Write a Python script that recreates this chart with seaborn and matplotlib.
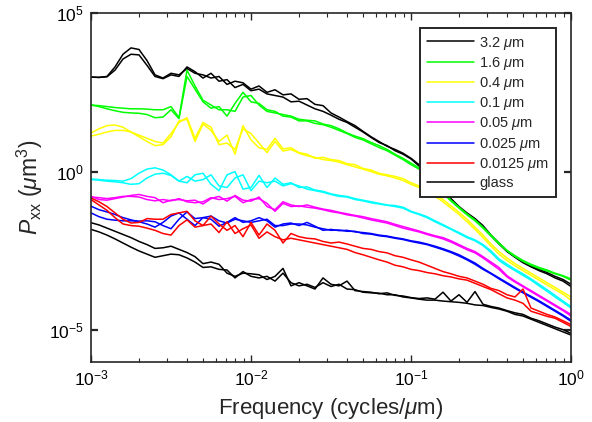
import numpy as np
import pandas as pd
import seaborn as sns
import matplotlib.pyplot as plt
from matplotlib.lines import Line2D
from matplotlib.ticker import LogLocator, NullLocator

# log10 of frequency (cycles/um), shared by every spectrum
log_freq = [-3.00, -2.95, -2.90, -2.85, -2.80, -2.75, -2.70, -2.65, -2.60, -2.55,
            -2.50, -2.45, -2.40, -2.35, -2.30, -2.25, -2.20, -2.15, -2.10, -2.05,
            -2.00, -1.95, -1.90, -1.85, -1.80, -1.75, -1.70, -1.65, -1.60, -1.55,
            -1.50, -1.45, -1.40, -1.35, -1.30, -1.25, -1.20, -1.15, -1.10, -1.05,
            -1.00, -0.95, -0.90, -0.85, -0.80, -0.75, -0.70, -0.65, -0.60, -0.55,
            -0.50, -0.45, -0.40, -0.35, -0.30, -0.25, -0.20, -0.15, -0.10, -0.05,
            0.00]

# log10 of Pxx (um^3), two scans per sample
p32_a = [2.98, 2.97, 3.0, 3.3, 3.7, 3.9, 3.85, 3.5, 3.05, 2.95, 3.1, 3.05, 3.25, 3.1, 3.05, 2.95, 3.0, 2.75, 2.85, 2.8,
         2.6, 2.7, 2.5, 2.58, 2.42, 2.45, 2.28, 2.3, 2.12, 2.08, 1.85, 1.72, 1.58, 1.45, 1.27, 1.1, 0.95, 0.8, 0.7, 0.58,
         0.42, 0.22, -0.05, -0.35, -0.62, -0.85, -1.1, -1.3, -1.48, -1.7, -2.0, -2.25, -2.5, -2.68, -2.85, -2.98, -3.08, -3.18, -3.3, -3.4,
         -3.55]
p32_b = [2.98, 2.97, 2.99, 3.2, 3.55, 3.7, 3.68, 3.35, 3.0, 2.93, 3.05, 3.0, 3.3, 3.15, 2.95, 3.1, 2.85, 2.9, 2.65, 2.75,
         2.55, 2.6, 2.45, 2.4, 2.35, 2.2, 2.22, 2.1, 1.98, 1.9, 1.78, 1.65, 1.55, 1.4, 1.25, 1.08, 0.92, 0.82, 0.66, 0.55,
         0.4, 0.18, -0.08, -0.38, -0.65, -0.88, -1.12, -1.33, -1.5, -1.75, -2.02, -2.28, -2.52, -2.7, -2.87, -3.0, -3.12, -3.22, -3.35, -3.45,
         -3.62]
p16_a = [2.1, 2.08, 2.05, 2.02, 2.0, 1.98, 1.98, 1.97, 1.95, 1.95, 2.05, 1.7, 3.2, 2.7, 2.25, 2.1, 1.95, 1.95, 1.9, 2.35,
         2.4, 2.1, 1.9, 1.85, 1.8, 1.75, 1.65, 1.62, 1.6, 1.5, 1.45, 1.35, 1.22, 1.12, 1.04, 0.92, 0.82, 0.7, 0.55, 0.42,
         0.27, 0.12, -0.1, -0.38, -0.65, -0.9, -1.12, -1.33, -1.52, -1.75, -2.0, -2.25, -2.48, -2.65, -2.8, -2.92, -3.02, -3.1, -3.2, -3.28,
         -3.38]
p16_b = [2.1, 2.05, 1.98, 1.92, 1.87, 1.85, 1.84, 1.8, 1.7, 1.72, 1.95, 1.67, 3.0, 2.6, 2.2, 2.0, 2.05, 1.75, 2.15, 2.5,
         2.2, 2.15, 1.95, 1.9, 1.75, 1.72, 1.6, 1.6, 1.52, 1.48, 1.4, 1.3, 1.2, 1.08, 1.0, 0.88, 0.76, 0.66, 0.52, 0.38,
         0.22, 0.08, -0.15, -0.42, -0.68, -0.93, -1.15, -1.36, -1.55, -1.78, -2.03, -2.28, -2.5, -2.68, -2.83, -2.95, -3.05, -3.13, -3.22, -3.3,
         -3.42]
p04_a = [1.22, 1.35, 1.45, 1.47, 1.4, 1.25, 1.1, 0.95, 0.82, 0.85, 1.1, 1.6, 1.65, 0.95, 1.5, 1.3, 0.95, 1.15, 0.55, 1.45,
         1.0, 0.75, 0.7, 1.05, 0.72, 0.75, 0.6, 0.55, 0.42, 0.45, 0.38, 0.35, 0.25, 0.22, 0.1, 0.05, -0.05, -0.1, -0.15, -0.22,
         -0.35, -0.45, -0.58, -0.72, -0.88, -1.08, -1.28, -1.5, -1.75, -2.0, -2.28, -2.52, -2.72, -2.9, -3.05, -3.2, -3.35, -3.5, -3.65, -3.8,
         -3.95]
p04_b = [1.12, 1.18, 1.25, 1.3, 1.3, 1.25, 1.15, 1.05, 0.95, 0.9, 1.2, 1.55, 1.7, 1.05, 1.55, 1.4, 0.85, 0.9, 0.7, 1.35,
         1.2, 0.9, 0.6, 0.95, 0.65, 0.7, 0.58, 0.5, 0.45, 0.38, 0.35, 0.3, 0.22, 0.15, 0.08, 0.0, -0.08, -0.13, -0.2, -0.28,
         -0.4, -0.5, -0.62, -0.78, -0.95, -1.15, -1.35, -1.58, -1.82, -2.08, -2.35, -2.6, -2.8, -2.97, -3.12, -3.27, -3.42, -3.57, -3.72, -3.86,
         -4.05]
p01_a = [-0.23, -0.25, -0.27, -0.28, -0.3, -0.22, -0.05, 0.08, 0.12, 0.05, -0.1, -0.3, -0.35, -0.1, -0.05, -0.4, -0.6, -0.1, 0.0, -0.55,
         -0.5, -0.12, -0.5, -0.2, -0.4, -0.35, -0.5, -0.48, -0.58, -0.62, -0.7, -0.75, -0.78, -0.85, -0.9, -0.95, -1.0, -1.05, -1.07, -1.12,
         -1.25, -1.33, -1.42, -1.55, -1.67, -1.8, -1.92, -2.05, -2.15, -2.3, -2.5, -2.75, -2.92, -3.08, -3.22, -3.38, -3.55, -3.72, -3.9, -4.08,
         -4.25]
p01_b = [-0.25, -0.27, -0.3, -0.32, -0.35, -0.4, -0.38, -0.2, -0.08, -0.05, -0.12, -0.3, -0.15, -0.3, -0.25, -0.1, -0.45, -0.5, -0.2, -0.1,
         -0.6, -0.3, -0.35, -0.3, -0.45, -0.38, -0.45, -0.55, -0.6, -0.65, -0.72, -0.78, -0.8, -0.88, -0.92, -0.98, -1.02, -1.06, -1.1, -1.15,
         -1.27, -1.35, -1.45, -1.58, -1.7, -1.82, -1.95, -2.08, -2.18, -2.33, -2.55, -2.8, -2.97, -3.12, -3.27, -3.42, -3.6, -3.77, -3.95, -4.12,
         -4.3]
p005_a = [-0.78, -0.88, -0.9, -0.85, -0.8, -0.75, -0.72, -0.78, -0.82, -0.98, -0.9, -0.88, -0.92, -0.9, -1.02, -0.85, -0.78, -0.93, -0.75, -0.9,
          -0.93, -0.8, -1.1, -1.2, -0.95, -1.05, -1.1, -1.05, -1.12, -1.18, -1.22, -1.28, -1.33, -1.38, -1.42, -1.48, -1.53, -1.58, -1.66, -1.73,
          -1.8, -1.87, -1.95, -2.02, -2.08, -2.18, -2.3, -2.42, -2.52, -2.68, -2.85, -3.02, -3.28, -3.45, -3.6, -3.75, -3.9, -4.05, -4.2, -4.35,
          -4.5]
p005_b = [-0.8, -0.82, -0.85, -0.82, -0.78, -0.78, -0.8, -0.88, -0.92, -0.88, -0.92, -0.85, -0.95, -0.98, -0.95, -0.82, -0.88, -0.85, -0.78, -0.98,
          -0.88, -0.85, -1.0, -1.25, -1.0, -1.1, -1.08, -1.12, -1.15, -1.2, -1.26, -1.3, -1.36, -1.4, -1.46, -1.52, -1.57, -1.62, -1.7, -1.78,
          -1.84, -1.9, -1.98, -2.05, -2.12, -2.22, -2.34, -2.46, -2.56, -2.72, -2.9, -3.08, -3.32, -3.48, -3.63, -3.78, -3.93, -4.08, -4.23, -4.38,
          -4.55]
p0025_a = [-1.09, -1.2, -1.27, -1.35, -1.45, -1.52, -1.58, -1.65, -1.75, -1.6, -1.4, -1.3, -1.5, -1.7, -1.45, -1.5, -1.72, -1.6, -1.45, -1.6,
           -1.55, -1.45, -1.55, -1.75, -1.65, -1.62, -1.7, -1.6, -1.72, -1.85, -1.82, -1.86, -1.85, -1.9, -1.92, -1.95, -2.0, -2.03, -2.08, -2.12,
           -2.18, -2.22, -2.28, -2.35, -2.43, -2.52, -2.62, -2.75, -2.88, -3.05, -3.2, -3.35, -3.5, -3.65, -3.8, -3.93, -4.07, -4.22, -4.37, -4.52,
           -4.68]
p0025_b = [-1.3, -1.42, -1.5, -1.53, -1.55, -1.55, -1.56, -1.55, -1.58, -1.7, -1.8, -1.5, -1.27, -1.48, -1.45, -1.4, -1.55, -1.62, -1.5, -1.55,
           -1.6, -1.55, -1.5, -1.7, -1.7, -1.65, -1.65, -1.68, -1.75, -1.8, -1.85, -1.84, -1.88, -1.88, -1.95, -1.97, -2.02, -2.05, -2.1, -2.14,
           -2.2, -2.25, -2.3, -2.38, -2.46, -2.55, -2.66, -2.78, -2.92, -3.08, -3.22, -3.38, -3.53, -3.68, -3.82, -3.96, -4.1, -4.25, -4.4, -4.55,
           -4.72]
p00125_a = [-0.83, -0.95, -1.1, -1.3, -1.5, -1.62, -1.6, -1.48, -1.5, -1.5, -1.35, -1.3, -1.25, -1.55, -1.7, -1.4, -1.65, -1.85, -1.7, -2.05,
            -1.6, -2.0, -1.65, -1.85, -2.25, -1.95, -2.05, -2.1, -2.12, -2.2, -2.25, -2.22, -2.28, -2.35, -2.42, -2.45, -2.52, -2.56, -2.65, -2.7,
            -2.78, -2.85, -2.95, -3.05, -3.15, -3.22, -3.3, -3.35, -3.45, -3.55, -3.68, -3.75, -3.88, -3.95, -3.7, -4.3, -4.4, -4.5, -4.58, -4.7,
            -4.82]
p00125_b = [-0.88, -1.05, -1.22, -1.45, -1.65, -1.7, -1.72, -1.78, -1.85, -1.95, -2.0, -1.7, -1.52, -1.75, -1.7, -1.65, -1.92, -1.58, -1.95, -1.8,
            -1.68, -2.1, -1.9, -2.05, -2.15, -2.1, -2.15, -2.2, -2.25, -2.3, -2.35, -2.4, -2.45, -2.55, -2.62, -2.7, -2.78, -2.85, -2.95, -3.0,
            -3.08, -3.12, -3.18, -3.22, -3.28, -3.32, -3.38, -3.42, -3.52, -3.62, -3.72, -3.85, -3.98, -4.05, -4.15, -4.4, -4.48, -4.56, -4.62, -4.75,
            -4.88]
glass_a = [-1.61, -1.68, -1.78, -1.88, -1.98, -2.08, -2.2, -2.3, -2.42, -2.4, -2.35, -2.45, -2.55, -2.68, -2.9, -2.85, -2.92, -3.2, -3.3, -3.2,
           -3.22, -3.25, -3.4, -3.3, -3.05, -3.6, -3.5, -3.6, -3.7, -3.35, -3.55, -3.6, -3.45, -3.75, -3.78, -3.8, -3.85, -3.82, -3.9, -3.92,
           -3.97, -4.0, -3.98, -4.02, -3.8, -4.08, -3.88, -4.12, -3.78, -4.18, -4.25, -4.3, -4.38, -4.45, -4.5, -4.62, -4.7, -4.8, -4.9, -4.98,
           -5.1]
glass_b = [-1.82, -1.9, -2.0, -2.12, -2.25, -2.38, -2.5, -2.6, -2.7, -2.65, -2.6, -2.62, -2.72, -2.85, -3.02, -3.0, -3.08, -3.1, -3.35, -3.15,
           -3.3, -3.35, -3.3, -3.45, -3.2, -3.5, -3.6, -3.55, -3.65, -3.5, -3.62, -3.55, -3.7, -3.72, -3.8, -3.82, -3.83, -3.88, -3.88, -3.95,
           -3.98, -4.02, -4.05, -4.05, -4.08, -4.1, -4.12, -4.15, -4.2, -4.22, -4.28, -4.33, -4.4, -4.5, -4.55, -4.65, -4.75, -4.85, -4.95, -5.05,
           -5.15]

samples = ['3.2', '1.6', '0.4', '0.1', '0.05', '0.025', '0.0125', 'glass']
legend_labels = [r'3.2 $\mu$m', r'1.6 $\mu$m', r'0.4 $\mu$m', r'0.1 $\mu$m',
                 r'0.05 $\mu$m', r'0.025 $\mu$m', r'0.0125 $\mu$m', 'glass']
colors = ['#000000', '#00ff00', '#ffff00', '#00ffff', '#ff00ff', '#0000ff', '#ff0000', '#000000']
scans = {
    '3.2': [p32_a, p32_b],
    '1.6': [p16_a, p16_b],
    '0.4': [p04_a, p04_b],
    '0.1': [p01_a, p01_b],
    '0.05': [p005_a, p005_b],
    '0.025': [p0025_a, p0025_b],
    '0.0125': [p00125_a, p00125_b],
    'glass': [glass_a, glass_b],
}

rows = []
for name in samples:
    for run, vals in enumerate(scans[name]):
        for lf, lp in zip(log_freq, vals):
            rows.append({'sample': name, 'run': run, 'freq': 10 ** lf, 'pxx': 10 ** lp})
df = pd.DataFrame(rows)

sns.set_theme(style='ticks')
plt.rcParams['font.family'] = ['Liberation Sans', 'DejaVu Sans']
plt.rcParams['mathtext.fontset'] = 'custom'
plt.rcParams['mathtext.rm'] = 'Liberation Sans'
plt.rcParams['mathtext.it'] = 'Liberation Sans:italic'
plt.rcParams['mathtext.bf'] = 'Liberation Sans:bold'

fig = plt.figure(figsize=(5.92, 4.22), dpi=100)
ax = fig.add_axes([91 / 592, 60 / 422, 480 / 592, 349 / 422])

sns.lineplot(data=df, x='freq', y='pxx', hue='sample', units='run', estimator=None,
             palette=dict(zip(samples, colors)), hue_order=samples, sort=False,
             linewidth=1.1, legend=False, ax=ax)

ax.set_xscale('log')
ax.set_yscale('log')
ax.set_xlim(1e-3, 1)
ax.set_ylim(1e-6, 1e5)
ax.set_xticks([1e-3, 1e-2, 1e-1, 1])
ax.xaxis.set_minor_locator(LogLocator(base=10, subs=np.arange(2, 10)))
ax.set_yticks([1e-5, 1, 1e5])
ax.yaxis.set_minor_locator(NullLocator())

ax.tick_params(which='both', direction='in', top=True, right=True, colors='#262626',
               labelcolor='black', labelsize=12.5)
ax.tick_params(which='major', length=5, width=1.0, pad=5)
ax.tick_params(which='minor', length=3, width=0.8)
ax.tick_params(axis='y', which='major', width=1.6)
for sp in ax.spines.values():
    sp.set_color('#262626')
    sp.set_linewidth(1.2)

ax.set_xlabel(r'Frequency (cycles/$\mu$m)', fontsize=16, labelpad=5)
ax.set_ylabel(r'$P_{\mathrm{xx}}$ ($\mu$m$^3$)', fontsize=16.5, labelpad=3)

handles = [Line2D([0], [0], color=c, lw=1.1) for c in colors]
leg = ax.legend(handles, legend_labels, loc='upper right', bbox_to_anchor=(0.969, 0.957),
                borderaxespad=0, fontsize=10.5, handlelength=3.2, handletextpad=0.4,
                labelspacing=0.22, borderpad=0.45, fancybox=False, framealpha=1)
leg.get_frame().set_edgecolor('#262626')
leg.get_frame().set_linewidth(1.4)

fig.savefig('out.png', dpi=100)
